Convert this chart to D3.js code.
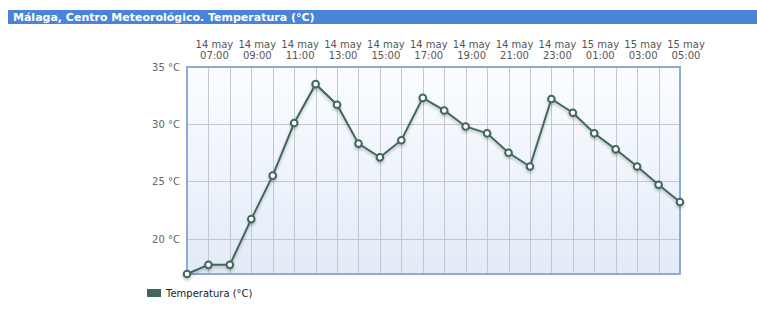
<!DOCTYPE html>
<html>
<head>
<meta charset="utf-8">
<script src="https://cdn.jsdelivr.net/npm/d3@7"></script>
<style>
  body { margin: 0; background: #fff; }
  svg { display: block; font-family: Verdana, "DejaVu Sans", sans-serif; }
</style>
</head>
<body>
<svg id="chart" width="757" height="314"></svg>
<script>
// hourly readings, 14 may 06:00 -> 15 may 05:00
const hours = ['06:00','07:00','08:00','09:00','10:00','11:00','12:00','13:00','14:00','15:00','16:00','17:00',
  '18:00','19:00','20:00','21:00','22:00','23:00','00:00','01:00','02:00','03:00','04:00','05:00'];
const days = ['14 may','14 may','14 may','14 may','14 may','14 may','14 may','14 may','14 may','14 may','14 may','14 may',
  '14 may','14 may','14 may','14 may','14 may','14 may','15 may','15 may','15 may','15 may','15 may','15 may'];
const temps = [16.9, 17.7, 17.7, 21.7, 25.5, 30.1, 33.5, 31.7, 28.3, 27.1, 28.6, 32.3,
  31.2, 29.8, 29.2, 27.5, 26.3, 32.2, 31.0, 29.2, 27.8, 26.3, 24.7, 23.2];
const yTicks = [20, 25, 30, 35];

const svg = d3.select('#chart');
const plot = { left: 187, right: 680, top: 67, bottom: 274 };
const lineColor = '#41675b';

// title bar
svg.append('rect').attr('x', 8).attr('y', 10).attr('width', 749).attr('height', 14).attr('fill', '#4a84d6');
svg.append('text').attr('x', 13).attr('y', 21)
  .attr('fill', '#fff').attr('font-weight', 'bold').attr('font-size', 11)
  .text('Málaga, Centro Meteorológico. Temperatura (°C)');

const x = d3.scalePoint().domain(d3.range(temps.length)).range([plot.left, plot.right]);
const y = d3.scaleLinear().domain([16.9, 35]).range([plot.bottom, plot.top]);

// background gradient
const defs = svg.append('defs');
const grad = defs.append('linearGradient').attr('id', 'bg').attr('x1', 0).attr('y1', 0).attr('x2', 0).attr('y2', 1);
grad.append('stop').attr('offset', '0%').attr('stop-color', '#fbfdff');
grad.append('stop').attr('offset', '100%').attr('stop-color', '#e3ebf8');
const shadow = defs.append('filter').attr('id', 'shadow').attr('x', '-10%').attr('y', '-10%').attr('width', '120%').attr('height', '130%');
shadow.append('feGaussianBlur').attr('in', 'SourceAlpha').attr('stdDeviation', 1.5);
shadow.append('feOffset').attr('dy', 2).attr('result', 'b');
shadow.append('feComponentTransfer').append('feFuncA').attr('type', 'linear').attr('slope', 0.25);
const merge = shadow.append('feMerge');
merge.append('feMergeNode');
merge.append('feMergeNode').attr('in', 'SourceGraphic');

svg.append('rect')
  .attr('x', plot.left).attr('y', plot.top)
  .attr('width', plot.right - plot.left).attr('height', plot.bottom - plot.top)
  .attr('fill', 'url(#bg)');

// grid
svg.append('g').selectAll('line').data(d3.range(1, temps.length - 1)).join('line')
  .attr('x1', d => Math.round(x(d)) + 0.5).attr('x2', d => Math.round(x(d)) + 0.5)
  .attr('y1', plot.top).attr('y2', plot.bottom)
  .attr('stroke', '#c3c7d0').attr('stroke-width', 1);
svg.append('g').selectAll('line').data(yTicks.slice(0, -1)).join('line')
  .attr('x1', plot.left).attr('x2', plot.right)
  .attr('y1', d => Math.round(y(d)) + 0.5).attr('y2', d => Math.round(y(d)) + 0.5)
  .attr('stroke', '#c3c7d0').attr('stroke-width', 1);

// border
svg.append('rect')
  .attr('x', plot.left).attr('y', plot.top)
  .attr('width', plot.right - plot.left).attr('height', plot.bottom - plot.top)
  .attr('fill', 'none').attr('stroke', '#8eaad6').attr('stroke-width', 2);

// y labels
svg.append('g').selectAll('text').data(yTicks).join('text')
  .attr('x', 180).attr('y', d => y(d) + 4)
  .attr('text-anchor', 'end').attr('font-size', 10).attr('fill', '#666')
  .text(d => d + ' °C');

// top labels every 2 hours
const labelIdx = d3.range(1, temps.length, 2);
const tl = svg.append('g').selectAll('text').data(labelIdx).join('text')
  .attr('text-anchor', 'middle').attr('font-size', 10).attr('fill', '#555');
tl.append('tspan').attr('x', d => x(d) + 6).attr('y', 48).text(d => days[d]);
tl.append('tspan').attr('x', d => x(d) + 6).attr('y', 59).text(d => hours[d]);

// line + points
const line = d3.line().x((d, i) => x(i)).y(d => y(d));
const g = svg.append('g').attr('filter', 'url(#shadow)');
g.append('path').datum(temps).attr('d', line)
  .attr('fill', 'none').attr('stroke', lineColor).attr('stroke-width', 2);
g.selectAll('circle').data(temps).join('circle')
  .attr('cx', (d, i) => x(i)).attr('cy', d => y(d)).attr('r', 3.3)
  .attr('fill', '#fff').attr('stroke', lineColor).attr('stroke-width', 2);

// legend
svg.append('rect').attr('x', 147).attr('y', 289).attr('width', 14).attr('height', 8).attr('fill', lineColor);
svg.append('text').attr('x', 166).attr('y', 297).attr('font-size', 10).attr('fill', '#222')
  .text('Temperatura (°C)');
</script>
</body>
</html>
